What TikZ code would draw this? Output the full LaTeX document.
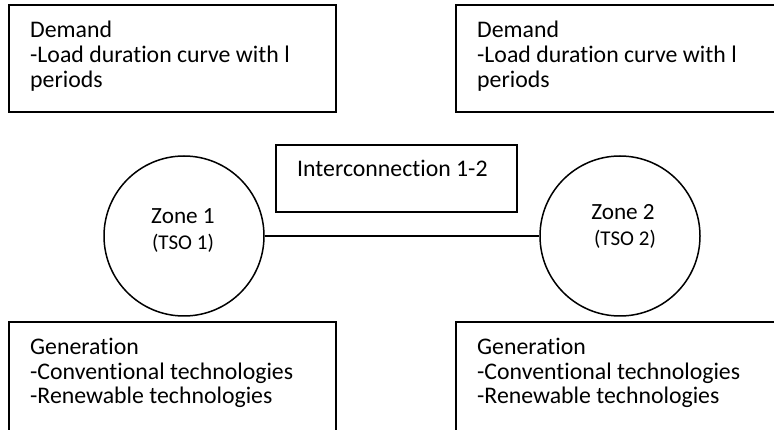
\documentclass[tikz,border=0pt]{standalone}
\usepackage{fontspec}
\setmainfont{Carlito}[Ligatures=NoCommon]
\begin{document}
\begin{tikzpicture}[x=1pt,y=-1pt,
  frame/.style={draw, line width=1.6pt},
  ring/.style={draw, line width=1.5pt, circle, inner sep=0pt, minimum size=160pt},
  txt/.style={font=\fontsize{23.8}{25}\selectfont, inner sep=0pt, anchor=base west},
  ztxt/.style={font=\fontsize{23.2}{25}\selectfont, inner sep=0pt, anchor=base},
  stxt/.style={font=\fontsize{21}{22}\selectfont, inner sep=0pt, anchor=base},
  link/.style={draw, line width=1.3pt}]
\useasboundingbox (0,0) rectangle (774,430);
\fill[white] (0,0) rectangle (774,430);

% demand boxes
\draw[frame] (9,5) rectangle (336,112);
\draw[frame] (456,5) rectangle (790,112);
\node[txt] (d1a) at (30,38) {Demand};
\node[txt] (d1b) at (30,63) {-Load duration curve with l};
\node[txt] (d1c) at (30,88) {periods};
\node[txt] (d2a) at (477,38) {Demand};
\node[txt] (d2b) at (477,63) {-Load duration curve with l};
\node[txt] (d2c) at (477,88) {periods};

% interconnection box
\draw[frame] (276,145) rectangle (517,212);
\node[txt] (ic) at (297,177) {Interconnection 1-2};

% zones
\node[ring] (z1) at (184,236) {};
\node[ring] (z2) at (620,236) {};
\node[ztxt] (z1a) at (183,224) {Zone 1};
\node[stxt] (z1b) at (183,250) {(TSO 1)};
\node[ztxt] (z2a) at (623,220) {Zone 2};
\node[stxt] (z2b) at (625,246) {(TSO 2)};
\draw[link] (z1.east) -- (z2.west);

% generation boxes
\draw[frame] (9,322) rectangle (336,440);
\draw[frame] (456,322) rectangle (790,440);
\node[txt] (g1a) at (30,355) {Generation};
\node[txt] (g1b) at (30,379) {-Conventional technologies};
\node[txt] (g1c) at (30,403) {-Renewable technologies};
\node[txt] (g2a) at (477,355) {Generation};
\node[txt] (g2b) at (477,379) {-Conventional technologies};
\node[txt] (g2c) at (477,403) {-Renewable technologies};
\end{tikzpicture}
\end{document}
